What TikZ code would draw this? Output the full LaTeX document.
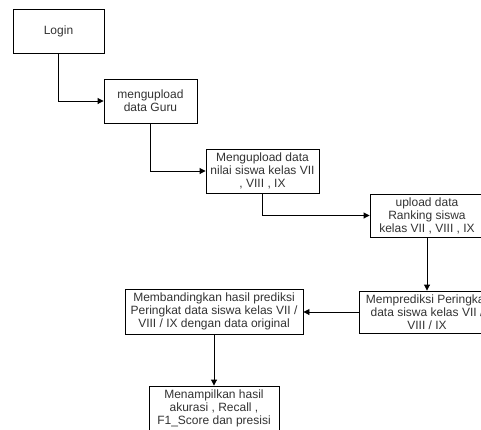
\documentclass[tikz,border=0pt]{standalone}
\usepackage{fontspec}
\setmainfont{Liberation Sans}
\usetikzlibrary{arrows.meta}
\begin{document}
\begin{tikzpicture}[x=1pt,y=-1pt,
  box/.style={draw=black, line width=0.9pt, fill=white, align=center, inner sep=0pt,
    text=black!80, font=\fontsize{12}{13}\selectfont},
  conn/.style={draw=black, line width=0.9pt, -{Triangle[length=6pt,width=6pt]}}]
\clip (0,0) rectangle (481,429);
\fill[white] (0,0) rectangle (481,429);
\node[box, minimum width=91pt, minimum height=44pt] (n1) at (58.5,31) {Login};
\node[box, minimum width=93pt, minimum height=44pt] (n2) at (150.5,101) {mengupload\\data Guru};
\node[box, minimum width=113pt, minimum height=44pt] (n3) at (262.5,171) {Mengupload data\\nilai siswa kelas VII\\, VIII , IX};
\node[box, minimum width=114pt, minimum height=43pt] (n4) at (427,215.5) {upload data\\Ranking siswa\\kelas VII , VIII , IX};
\node[box, minimum width=136pt, minimum height=42pt] (n5) at (427,312) {Memprediksi Peringkat\\data siswa kelas VII /\\VIII / IX};
\node[box, minimum width=178pt, minimum height=45pt] (n6) at (214,311.5) {Membandingkan hasil prediksi\\Peringkat data siswa kelas VII /\\VIII / IX dengan data original};
\node[box, minimum width=130pt, minimum height=44pt] (n7) at (214,408) {Menampilkan hasil\\akurasi , Recall ,\\F1\_Score dan presisi};
\draw[conn] (n1.south) |- (n2.west);
\draw[conn] (n2.south) |- (n3.west);
\draw[conn] (n3.south) |- (n4.west);
\draw[conn] (n4.south) -- (n5.north);
\draw[conn] (n5.west) -- (n5.west -| n6.east);
\draw[conn] (n6.south) -- (n7.north);
\end{tikzpicture}
\end{document}
